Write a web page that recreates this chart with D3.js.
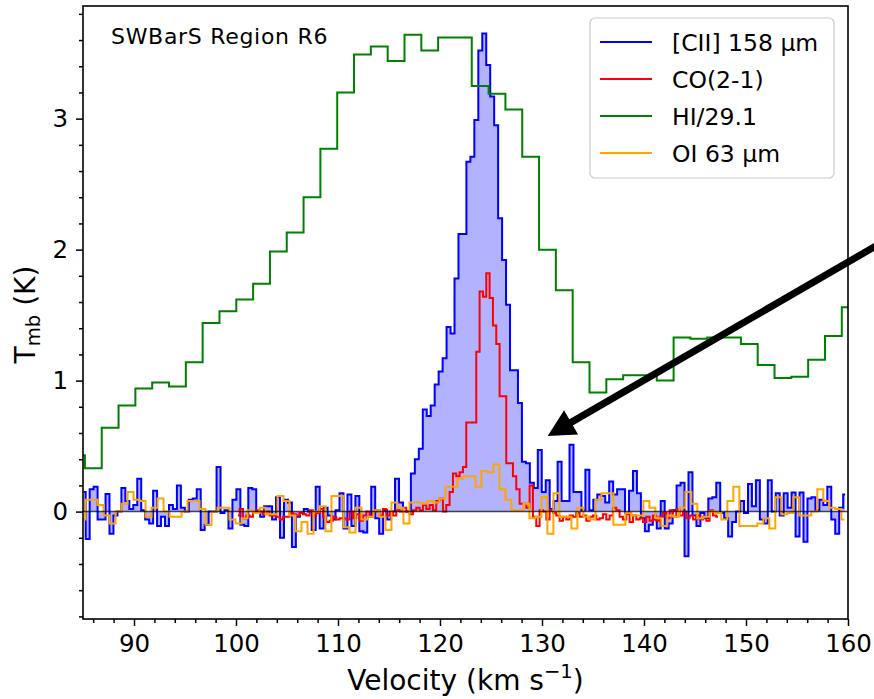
<!DOCTYPE html>
<html>
<head>
<meta charset="utf-8">
<script src="https://cdn.jsdelivr.net/npm/d3@7"></script>
<style>
  body { margin: 0; background: #fff; }
  svg { display: block; }
  text { font-family: "DejaVu Sans", sans-serif; fill: #000; }
</style>
</head>
<body>
<svg id="chart" width="874" height="699"></svg>
<script>
// each spectrum: centre of first channel and channel width (km/s), then Tmb per channel (K)
const ciiStart = 85.07, ciiStep = 0.3888;
const ciiT = [
  0.15, -0.21, 0.17, 0.19, -0.06, -0.06, 0.135, -0.17, -0.03, 0.0,
  0.18, 0.08, 0.02, 0.05, 0.25, 0.01, -0.06, -0.09, 0.16, -0.11,
  -0.04, -0.11, 0.05, 0.02, 0.2, 0.03, 0.0, 0.09, 0.1, 0.17,
  -0.14, -0.1, 0.0, 0.0, 0.34, -0.01, 0.01, -0.13, 0.09, 0.17,
  -0.1, -0.11, 0.18, 0.17, 0.0, -0.04, 0.04, 0.04, -0.06, 0.11,
  -0.2, 0.09, 0.07, -0.27, -0.04, -0.01, 0.02, 0.0, -0.14, 0.19,
  -0.13, 0.03, -0.03, -0.06, 0.01, 0.14, -0.13, 0.13, -0.11, 0.12,
  -0.15, -0.16, -0.04, 0.19, -0.05, -0.17, 0.01, -0.06, 0.0, 0.25,
  0.07, 0.0, 0.0, 0.29, 0.40, 0.48, 0.78, 0.73, 0.81, 0.97,
  1.07, 1.17, 1.41, 1.36, 1.78, 2.12, 2.12, 2.67, 2.71, 2.99,
  3.52, 3.65, 3.41, 3.17, 2.95, 2.24, 1.92, 1.58, 1.08, 1.08,
  0.83, 0.38, 0.37, 0.22, 0.18, 0.47, 0.15, 0.24, 0.02, 0.08,
  0.38, 0.08, 0.08, 0.51, 0.15, 0.15, 0.01, 0.32, 0.01, 0.09,
  0.13, 0.12, 0.07, 0.23, 0.13, 0.17, 0.17, -0.01, 0.16, 0.31,
  0.14, -0.05, -0.15, -0.1, -0.06, -0.13, 0.08, -0.13, -0.09, 0.01,
  0.2, 0.22, -0.34, 0.3, -0.03, -0.11, -0.01, -0.05, 0.1, 0.11,
  0.22, -0.01, -0.05, -0.19, -0.08, 0.0, 0.08, -0.01, 0.21, 0.04,
  0.24, -0.06, -0.09, 0.24, 0.0, 0.14, -0.03, 0.14, 0.03, 0.145,
  -0.19, 0.145, -0.23, 0.1, 0.11, 0.01, 0.09, 0.05, 0.19, -0.06,
  -0.17, 0.03, 0.13
];

const coStart = 100.19, coStep = 0.3268;
const coT = [
  -0.03, 0.02, -0.05, -0.03, -0.04, -0.01, 0.01, 0.0, -0.02, 0.0,
  -0.03, -0.03, -0.04, -0.06, -0.04, -0.04, -0.01, -0.02, -0.03, -0.01,
  -0.02, -0.03, 0.01, -0.03, -0.01, 0.02, -0.04, -0.08, -0.07, -0.04,
  -0.06, -0.05, -0.05, -0.06, 0.0, -0.05, -0.02, -0.07, -0.03, 0.0,
  -0.04, 0.0, 0.01, -0.03, 0.02, -0.03, 0.0, -0.03, 0.01, 0.0,
  0.03, 0.0, -0.02, 0.01, 0.03, 0.01, 0.05, 0.02, 0.05, 0.01,
  0.08, 0.1, 0.0, 0.05, 0.15, 0.29, 0.27, 0.3, 0.34, 0.68,
  0.68, 0.68, 1.22, 1.68, 1.64, 1.82, 1.63, 1.42, 1.28, 0.88,
  0.88, 0.37, 0.37, 0.27, 0.17, 0.06, 0.06, 0.03, 0.2, -0.04,
  -0.11, 0.01, 0.0, -0.06, 0.01, -0.01, -0.03, -0.07, -0.04, -0.06,
  -0.03, -0.04, -0.01, -0.04, -0.03, -0.07, -0.04, -0.03, -0.06, -0.05,
  -0.02, -0.06, -0.03, 0.03, 0.01, -0.04, -0.06, -0.02, -0.08, -0.03,
  -0.06, -0.05, -0.08, -0.04, -0.07, -0.03, -0.07, -0.04, -0.01, -0.05,
  0.01, -0.04, 0.02, -0.03, 0.0, -0.05, -0.03, -0.06, -0.03, -0.06,
  -0.04, -0.07, 0.01, -0.03, -0.04
];

// HI already scaled by 1/29.1
const hiStart = 84.363, hiStep = 1.649;
const hiT = [
  0.43, 0.33, 0.64, 0.81, 0.94, 0.985, 0.955, 1.14, 1.44, 1.53,
  1.62, 1.74, 1.985, 2.13, 2.4, 2.77, 3.2, 3.49, 3.55, 3.44,
  3.64, 3.52, 3.62, 3.62, 3.25, 3.19, 3.07, 2.71, 2.0, 1.69,
  1.14, 0.91, 1.01, 1.04, 1.04, 1.0, 1.33, 1.32, 1.33, 1.33,
  1.28, 1.12, 1.02, 1.03, 1.16, 1.34, 1.56
];

const oiStart = 84.96, oiStep = 0.588;
const oiT = [
  -0.06, 0.09, 0.09, 0.05, -0.03, -0.09, 0.0, 0.06, 0.15, 0.09,
  0.08, -0.04, 0.03, 0.1, 0.0, -0.04, -0.04, 0.0, 0.08, 0.08,
  0.02, -0.1, 0.0, 0.03, 0.03, -0.06, -0.09, -0.05, 0.01, -0.01,
  0.03, -0.02, -0.02, 0.12, 0.08, -0.03, -0.15, -0.08, -0.17, 0.0,
  0.04, -0.15, 0.12, 0.12, -0.12, -0.16, 0.03, -0.06, -0.04, 0.01,
  -0.04, -0.14, 0.07, 0.03, -0.09, 0.07, 0.07, 0.06, 0.08, 0.07,
  0.1, 0.19, 0.19, 0.25, 0.27, 0.27, 0.19, 0.31, 0.30, 0.36,
  0.17, 0.09, 0.01, 0.01, 0.06, -0.05, -0.04, 0.11, -0.17, 0.14,
  -0.04, -0.04, -0.13, 0.03, -0.04, -0.06, 0.09, 0.14, 0.14, -0.1,
  -0.1, -0.01, -0.03, -0.03, 0.08, 0.03, -0.05, -0.11, -0.03, -0.04,
  0.03, 0.15, 0.06, -0.05, -0.04, 0.0, -0.01, -0.06, 0.08, 0.19,
  -0.11, -0.11, -0.11, -0.09, -0.05, -0.13, 0.11, -0.02, -0.01, 0.11,
  -0.03, -0.03, 0.0, 0.17, 0.08, 0.03, 0.02, -0.06
];

const seriesNames = ["[CII] 158 \u03bcm", "CO(2-1)", "HI/29.1", "OI 63 \u03bcm"];
const seriesColors = ["#0000ff", "#ff0000", "#008000", "#ffa500"];

const xTicks = [90, 100, 110, 120, 130, 140, 150, 160];
const yTicks = [0, 1, 2, 3];

// arrow annotation in data units: [velocity, Tmb]
const arrowTail = [165, 2.13];
const arrowTip = [130.56, 0.578];

const toPoints = (start, step, vals) => vals.map((t, i) => [start + i * step, t]);
const cii = toPoints(ciiStart, ciiStep, ciiT);
const co = toPoints(coStart, coStep, coT);
const hi = toPoints(hiStart, hiStep, hiT);
const oi = toPoints(oiStart, oiStep, oiT);

const svg = d3.select("#chart");
const plotL = 83, plotR = 848, plotT = 6, plotB = 619;

const x = d3.scaleLinear().domain([85, 160]).range([plotL, plotR]);
const y = d3.scaleLinear().domain([-0.82, 3.86]).range([plotB, plotT]);

svg.append("clipPath").attr("id", "plotclip")
  .append("rect").attr("x", plotL).attr("y", plotT)
  .attr("width", plotR - plotL).attr("height", plotB - plotT);

const plot = svg.append("g").attr("clip-path", "url(#plotclip)");

// steps-mid, like matplotlib drawstyle
const line = d3.line().x(d => x(d[0])).y(d => y(d[1])).curve(d3.curveStep);
const area = d3.area().x(d => x(d[0])).y0(y(0)).y1(d => y(d[1])).curve(d3.curveStep);

plot.append("path").datum(cii).attr("d", area)
  .attr("fill", "#0000ff").attr("fill-opacity", 0.3);

[cii, co, hi, oi].forEach((s, i) => {
  plot.append("path").datum(s).attr("d", line)
    .attr("fill", "none")
    .attr("stroke", seriesColors[i])
    .attr("stroke-width", 2)
    .attr("stroke-linejoin", "miter");
});

// zero line
plot.append("line")
  .attr("x1", plotL).attr("x2", plotR)
  .attr("y1", y(0)).attr("y2", y(0))
  .attr("stroke", "#000").attr("stroke-opacity", 0.7).attr("stroke-width", 1.5);

// axes
const styleAxis = g => {
  g.select(".domain").remove();
  g.selectAll(".tick line").attr("stroke", "#000").attr("stroke-width", 1.5);
  g.selectAll(".tick text").attr("font-size", 24.5).attr("font-family", "DejaVu Sans");
};

const notInt = v => Math.abs(v - Math.round(v)) > 1e-6;
const yMinor = d3.range(-0.8, 3.81, 0.2).filter(notInt);
const xMinor = d3.range(86, 160, 2).filter(v => v % 10 !== 0);

svg.append("g").attr("transform", `translate(${plotL},0)`)
  .call(d3.axisLeft(y).tickValues(yTicks).tickSize(7).tickPadding(8).tickFormat(d3.format("d")))
  .call(styleAxis);
svg.append("g").attr("transform", `translate(${plotL},0)`)
  .call(d3.axisLeft(y).tickValues(yMinor).tickSize(4).tickFormat(""))
  .call(styleAxis);

svg.append("g").attr("transform", `translate(0,${plotB})`)
  .call(d3.axisBottom(x).tickValues(xTicks).tickSize(7).tickPadding(9).tickFormat(d3.format("d")))
  .call(styleAxis);
svg.append("g").attr("transform", `translate(0,${plotB})`)
  .call(d3.axisBottom(x).tickValues(xMinor).tickSize(4).tickFormat(""))
  .call(styleAxis);

svg.append("rect")
  .attr("x", plotL).attr("y", plotT)
  .attr("width", plotR - plotL).attr("height", plotB - plotT)
  .attr("fill", "none").attr("stroke", "#000").attr("stroke-width", 1.6);

// axis labels
const xl = svg.append("text")
  .attr("x", (plotL + plotR) / 2).attr("y", 690)
  .attr("text-anchor", "middle").attr("font-size", 28);
xl.append("tspan").text("Velocity (km s");
xl.append("tspan").attr("font-size", 19.6).attr("dy", -12).text("\u22121");
xl.append("tspan").attr("dy", 12).text(")");

const yl = svg.append("text")
  .attr("transform", `translate(35,${(plotT + plotB) / 2 + 2}) rotate(-90)`)
  .attr("text-anchor", "middle").attr("font-size", 28);
yl.append("tspan").text("T");
yl.append("tspan").attr("font-size", 19.6).attr("dy", 5).text("mb");
yl.append("tspan").attr("dy", -5).text(" (K)");

// region name
svg.append("text").attr("x", 111).attr("y", 44)
  .attr("font-size", 22).attr("letter-spacing", 0.7).text("SWBarS Region R6");

// legend
const lg = svg.append("g").attr("transform", "translate(590,18)");
lg.append("rect").attr("width", 244).attr("height", 160).attr("rx", 5)
  .attr("fill", "#fff").attr("fill-opacity", 0.8)
  .attr("stroke", "#cccccc").attr("stroke-width", 1.2);
seriesNames.forEach((name, i) => {
  const yy = 24 + 37 * i;
  lg.append("line").attr("x1", 10).attr("x2", 62).attr("y1", yy).attr("y2", yy)
    .attr("stroke", seriesColors[i]).attr("stroke-width", 2);
  lg.append("text").attr("x", 82).attr("y", yy + 8.5)
    .attr("font-size", 23.5).text(name);
});

// arrow
const p0 = [x(arrowTail[0]), y(arrowTail[1])];
const p1 = [x(arrowTip[0]), y(arrowTip[1])];
const len = Math.hypot(p1[0] - p0[0], p1[1] - p0[1]);
const u = [(p1[0] - p0[0]) / len, (p1[1] - p0[1]) / len];
const n = [-u[1], u[0]];
const headLen = 27, headHalf = 14;
const base = [p1[0] - u[0] * headLen, p1[1] - u[1] * headLen];
svg.append("line")
  .attr("x1", p0[0]).attr("y1", p0[1])
  .attr("x2", base[0] + u[0] * 2).attr("y2", base[1] + u[1] * 2)
  .attr("stroke", "#000").attr("stroke-width", 7);
svg.append("polygon")
  .attr("points", [
    p1,
    [base[0] + n[0] * headHalf, base[1] + n[1] * headHalf],
    [base[0] - n[0] * headHalf, base[1] - n[1] * headHalf]
  ].map(p => p.join(",")).join(" "))
  .attr("fill", "#000");
</script>
</body>
</html>
